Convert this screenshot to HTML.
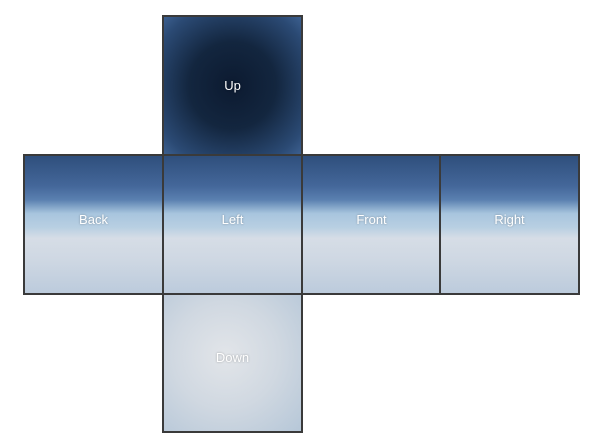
<!DOCTYPE html>
<html><head><meta charset="utf-8"><style>
body{margin:0;width:600px;height:448px;background:#fff;position:relative;overflow:hidden;font-family:"Liberation Sans",sans-serif}
.f{position:absolute;width:137px;height:137px;border:2px solid #3a3a3a;box-sizing:content-box;display:flex;align-items:center;justify-content:center;color:#fff;font-size:13px;text-shadow:0 0 2px rgba(0,0,0,.3)}
.f span{position:relative;top:-5px}
.up span{top:0}
.side{background:linear-gradient(to bottom,#2f4f7c 0%,#44679a 22%,#5a80b0 32%,#a8c5de 42%,#b8cfe2 52%,#d6dde6 60%,#cfd8e3 75%,#bccbdc 100%)}
.up{background:radial-gradient(circle at 50% 50%,#0c1a30 0%,#13263f 45%,#2b4a74 85%,#3c5f8f 100%)}
.down{background:radial-gradient(circle at 45% 45%,#e2e5e9 0%,#d0d8e1 50%,#b6c7d8 100%)}
</style></head><body>
<div class="f up" style="left:162px;top:15px"><span>Up</span></div>
<div class="f side" style="left:23px;top:154px"><span>Back</span></div>
<div class="f side" style="left:301px;top:154px"><span>Front</span></div>
<div class="f side" style="left:439px;top:154px"><span>Right</span></div>
<div class="f down" style="left:162px;top:292px"><span>Down</span></div>
<div class="f side" style="left:162px;top:154px"><span>Left</span></div>
</body></html>
